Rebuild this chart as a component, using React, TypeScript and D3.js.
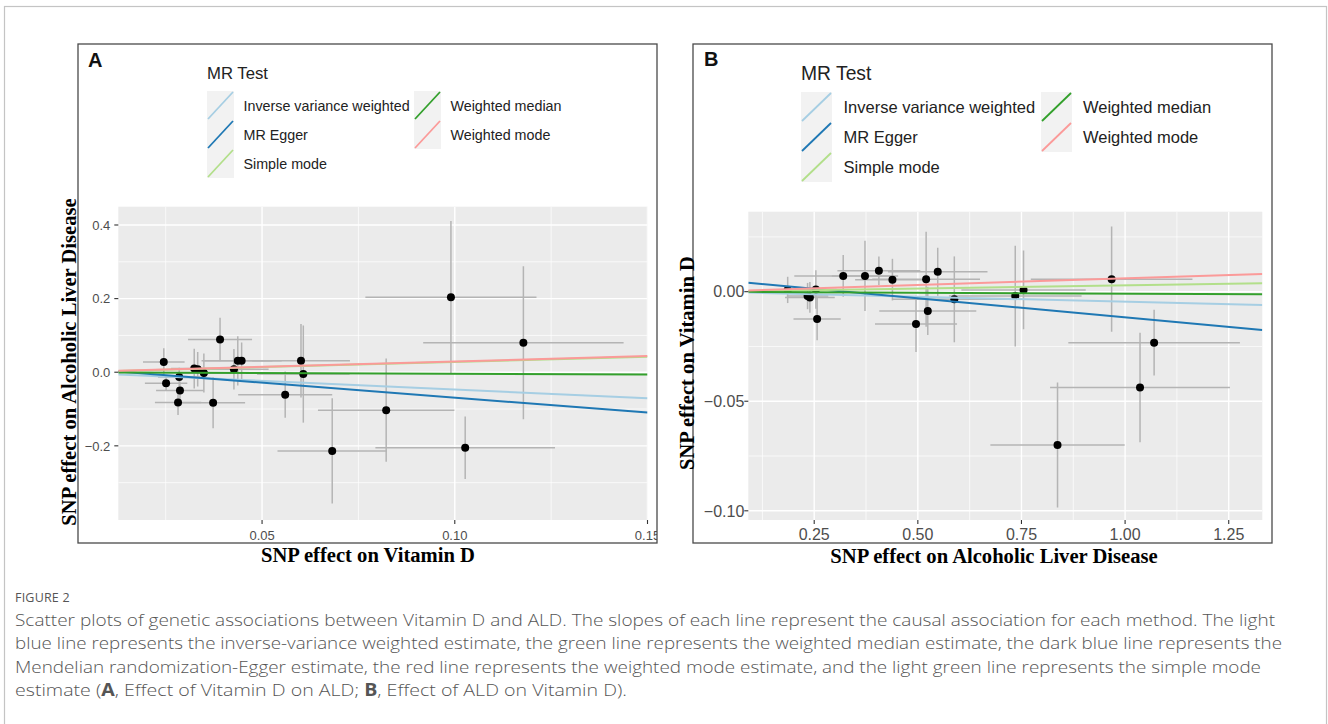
import * as d3 from 'd3';

const W = 1328;
const H = 724;

// MR methods, in ggplot factor order
const methods = ['Inverse variance weighted', 'MR Egger', 'Simple mode', 'Weighted median', 'Weighted mode'];
const methodColors = ['#a6cee3', '#1f78b4', '#b2df8a', '#33a02c', '#fb9a99'];

// Panel A: exposure Vitamin D, outcome ALD
const vitdA = [0.0245, 0.0251, 0.0285, 0.0287, 0.0282, 0.0324, 0.0333, 0.0349, 0.0391, 0.0373, 0.0427, 0.0437, 0.0447, 0.0601, 0.0607, 0.056, 0.0682, 0.0822, 0.099, 0.1178, 0.1027];
const aldA = [0.028, -0.03, -0.013, -0.05, -0.082, 0.01, 0.008, -0.002, 0.089, -0.083, 0.008, 0.031, 0.031, 0.031, -0.005, -0.061, -0.214, -0.103, 0.204, 0.08, -0.205];
const seVitdA = [0.0054, 0.0055, 0.0055, 0.0062, 0.006, 0.006, 0.006, 0.007, 0.0083, 0.0083, 0.009, 0.009, 0.0104, 0.0127, 0.012, 0.0122, 0.0142, 0.0177, 0.0222, 0.026, 0.0233];
const seAldA = [0.037, 0.02, 0.025, 0.025, 0.034, 0.054, 0.047, 0.053, 0.059, 0.069, 0.055, 0.067, 0.05, 0.1, 0.132, 0.063, 0.143, 0.14, 0.207, 0.208, 0.085];
const slopesA = [-0.47, -0.81, 0.28, -0.042, 0.293];
const interceptsA = [0, 0.012, 0, 0, 0];
const xTicksA = [0.05, 0.1, 0.15];
const xMinorA = [0.025, 0.075, 0.125];
const yTicksA = [-0.2, 0, 0.2, 0.4];
const yMinorA = [-0.3, -0.1, 0.1, 0.3];

// Panel B: exposure ALD, outcome Vitamin D
const aldB = [0.186, 0.234, 0.2396, 0.254, 0.257, 0.32, 0.3725, 0.406, 0.4387, 0.4956, 0.52, 0.524, 0.548, 0.588, 0.735, 0.755, 0.9675, 1.07, 1.036, 0.837];
const vitdB = [0.0008, -0.002, -0.0026, 0.001, -0.0125, 0.0072, 0.0072, 0.0095, 0.0055, -0.0147, 0.0057, -0.0088, 0.0091, -0.0035, -0.002, 0.0008, 0.0057, -0.0233, -0.0437, -0.07];
const seAldB = [0.04, 0.05, 0.06, 0.05, 0.057, 0.118, 0.08, 0.1, 0.09, 0.099, 0.13, 0.117, 0.12, 0.15, 0.16, 0.15, 0.195, 0.207, 0.217, 0.162];
const seVitdB = [0.006, 0.006, 0.007, 0.0088, 0.0097, 0.0095, 0.016, 0.0065, 0.0095, 0.0128, 0.0217, 0.011, 0.011, 0.0196, 0.023, 0.018, 0.024, 0.015, 0.025, 0.0285];
const slopesB = [-0.0046, -0.01742, 0.00288, -0.0009, 0.0061];
const interceptsB = [0, 0.00569, 0, 0, 0];
const xTicksB = [0.25, 0.5, 0.75, 1.0, 1.25];
const xMinorB = [0.125, 0.375, 0.625, 0.875, 1.125];
const yTicksB = [-0.1, -0.05, 0];
const yMinorB = [-0.075, -0.025, 0.025];

const captionLines = [
  'Scatter plots of genetic associations between Vitamin D and ALD. The slopes of each line represent the causal association for each method. The light',
  'blue line represents the inverse-variance weighted estimate, the green line represents the weighted median estimate, the dark blue line represents the',
  'Mendelian randomization-Egger estimate, the red line represents the weighted mode estimate, and the light green line represents the simple mode',
];
const captionEnds = [1275, 1282, 1261];

const SANS = 'Arial, "Liberation Sans", sans-serif';
const SERIF = '"Times New Roman", "Liberation Serif", serif';
const minus = (s: string) => s.replace('-', '\u2212');

function Panel(p: any) {
  const x = d3.scaleLinear().domain(p.xDomain).range([p.plot.l, p.plot.r]);
  const y = d3.scaleLinear().domain(p.yDomain).range([p.plot.b, p.plot.t]);
  const clipId = 'clip-' + p.id;
  const boxId = 'box-' + p.id;
  const lg = p.legend;
  return (
    <g>
      <defs>
        <clipPath id={clipId}>
          <rect x={p.plot.l} y={p.plot.t} width={p.plot.r - p.plot.l} height={p.plot.b - p.plot.t} />
        </clipPath>
        <clipPath id={boxId}>
          <rect x={p.box.x} y={p.box.y} width={p.box.w} height={p.box.h} />
        </clipPath>
      </defs>
      <rect x={p.box.x} y={p.box.y} width={p.box.w} height={p.box.h} fill="#fff" stroke="#4a4a4a" strokeWidth={1.3} />
      <text x={p.letter.x} y={p.letter.y} fontFamily={SANS} fontWeight="bold" fontSize={20} fill="#111">{p.id}</text>

      {/* legend */}
      <text x={lg.titleX} y={lg.titleY} fontFamily={SANS} fontSize={lg.titleSize} fill="#222">MR Test</text>
      {methods.map((m, i) => {
        const col = i < 3 ? 0 : 1;
        const row = i < 3 ? i : i - 3;
        const kx = col === 0 ? lg.keyX1 : lg.keyX2;
        const ky = lg.keyTop + row * lg.keyH;
        const tx = col === 0 ? lg.textX1 : lg.textX2;
        return (
          <g key={m}>
            <rect x={kx} y={ky} width={lg.keyW} height={lg.keyH} fill="#f2f2f2" />
            <line x1={kx + 1} y1={ky + lg.keyH - 1} x2={kx + lg.keyW - 1} y2={ky + 1} stroke={methodColors[i]} strokeWidth={1.8} />
            <text x={tx} y={ky + lg.keyH / 2} dy="0.36em" fontFamily={SANS} fontSize={lg.textSize} fill="#222">{m}</text>
          </g>
        );
      })}

      {/* plot panel */}
      <rect x={p.plot.l} y={p.plot.t} width={p.plot.r - p.plot.l} height={p.plot.b - p.plot.t} fill="#ebebeb" />
      <g clipPath={`url(#${clipId})`}>
        {p.xMinor.map((v: number) => <line key={'xm' + v} x1={x(v)} x2={x(v)} y1={p.plot.t} y2={p.plot.b} stroke="#fff" strokeWidth={0.7} />)}
        {p.yMinor.map((v: number) => <line key={'ym' + v} y1={y(v)} y2={y(v)} x1={p.plot.l} x2={p.plot.r} stroke="#fff" strokeWidth={0.7} />)}
        {p.xTicks.map((v: number) => <line key={'xM' + v} x1={x(v)} x2={x(v)} y1={p.plot.t} y2={p.plot.b} stroke="#fff" strokeWidth={1.4} />)}
        {p.yTicks.map((v: number) => <line key={'yM' + v} y1={y(v)} y2={y(v)} x1={p.plot.l} x2={p.plot.r} stroke="#fff" strokeWidth={1.4} />)}
        {p.xs.map((v: number, i: number) => (
          <g key={'e' + i} stroke="#b4b4b4" strokeWidth={1.5}>
            <line x1={x(v - p.sxs[i])} x2={x(v + p.sxs[i])} y1={y(p.ys[i])} y2={y(p.ys[i])} />
            <line x1={x(v)} x2={x(v)} y1={y(p.ys[i] - p.sys[i])} y2={y(p.ys[i] + p.sys[i])} />
          </g>
        ))}
        {p.xs.map((v: number, i: number) => (
          <circle key={'p' + i} cx={x(v)} cy={y(p.ys[i])} r={4} fill="#000" />
        ))}
        {methods.map((m, i) => {
          const [d0, d1] = p.xDomain;
          return (
            <line key={'l' + m} x1={x(d0)} x2={x(d1)}
              y1={y(p.intercepts[i] + p.slopes[i] * d0)} y2={y(p.intercepts[i] + p.slopes[i] * d1)}
              stroke={methodColors[i]} strokeWidth={2} />
          );
        })}
      </g>

      {/* axes */}
      <g clipPath={`url(#${boxId})`}>
        {p.xTicks.map((v: number) => (
          <g key={'xt' + v}>
            <line x1={x(v)} x2={x(v)} y1={p.plot.b} y2={p.plot.b + 4} stroke="#333" strokeWidth={1.1} />
            <text x={x(v)} y={540} textAnchor="middle" fontFamily={SANS} fontSize={p.tickSize} fill="#4d4d4d">{p.xFmt(v)}</text>
          </g>
        ))}
        {p.yTicks.map((v: number) => (
          <g key={'yt' + v}>
            <line x1={p.plot.l - 4} x2={p.plot.l} y1={y(v)} y2={y(v)} stroke="#333" strokeWidth={1.1} />
            <text x={p.plot.l - p.yLabelGap} y={y(v)} dy="0.36em" textAnchor="end" fontFamily={SANS} fontSize={p.tickSize} fill="#4d4d4d">{minus(p.yFmt(v))}</text>
          </g>
        ))}
      </g>
      <text x={p.xTitle.x} y={p.xTitle.y} textAnchor="middle" fontFamily={SERIF} fontWeight="bold" fontSize={20.6} fill="#000">{p.xTitle.text}</text>
      <text transform={`translate(${p.yTitle.x},${p.yTitle.y}) rotate(-90)`} textAnchor="middle" dy="0.35em" fontFamily={SERIF} fontWeight="bold" fontSize={20.6} fill="#000">{p.yTitle.text}</text>
    </g>
  );
}

export default function App() {
  const panelA = {
    id: 'A',
    box: { x: 78, y: 44, w: 579, h: 499 },
    plot: { l: 118.3, r: 647.5, t: 206.7, b: 520 },
    xDomain: [0.0127, 0.15],
    yDomain: [-0.4015, 0.4497],
    xTicks: xTicksA, xMinor: xMinorA, yTicks: yTicksA, yMinor: yMinorA,
    xFmt: d3.format('.2f'), yFmt: d3.format('.1f'),
    tickSize: 13, yLabelGap: 8,
    xs: vitdA, ys: aldA, sxs: seVitdA, sys: seAldA,
    slopes: slopesA, intercepts: interceptsA,
    xTitle: { text: 'SNP effect on Vitamin D', x: 368, y: 562 },
    yTitle: { text: 'SNP effect on Alcoholic Liver Disease', x: 69, y: 362 },
    letter: { x: 88, y: 67 },
    legend: { titleX: 207, titleY: 79, titleSize: 16.7, keyX1: 207, keyX2: 414, keyW: 27, keyH: 29, keyTop: 91, textX1: 243.5, textX2: 450.5, textSize: 14.3 },
  };
  const panelB = {
    id: 'B',
    box: { x: 693, y: 44, w: 579, h: 499 },
    plot: { l: 748.3, r: 1262.3, t: 211.7, b: 520 },
    xDomain: [0.091, 1.331],
    yDomain: [-0.1042, 0.0365],
    xTicks: xTicksB, xMinor: xMinorB, yTicks: yTicksB, yMinor: yMinorB,
    xFmt: d3.format('.2f'), yFmt: d3.format('.2f'),
    tickSize: 16, yLabelGap: 4,
    xs: aldB, ys: vitdB, sxs: seAldB, sys: seVitdB,
    slopes: slopesB, intercepts: interceptsB,
    xTitle: { text: 'SNP effect on Alcoholic Liver Disease', x: 994, y: 563 },
    yTitle: { text: 'SNP effect on Vitamin D', x: 687, y: 363 },
    letter: { x: 704, y: 66 },
    legend: { titleX: 801, titleY: 80, titleSize: 19.3, keyX1: 801, keyX2: 1041, keyW: 31, keyH: 30, keyTop: 92, textX1: 843.5, textX2: 1083, textSize: 16.5 },
  };
  const capFont = '"Open Sans", Lato, sans-serif';
  const capSize = 17;
  const capGap = 23.3;
  return (
    <svg width={W} height={H} viewBox={`0 0 ${W} ${H}`} style={{ position: 'absolute', left: 0, top: 0, background: '#fff' }}>
      <rect x={4.5} y={6.5} width={1322} height={H + 20} fill="none" stroke="#c4c4c4" strokeWidth={1.2} />
      <Panel {...panelA} />
      <Panel {...panelB} />
      <text x={15} y={602} fontFamily={capFont} fontSize={12.5} fill="#555" letterSpacing={0.2}>FIGURE 2</text>
      {captionLines.map((t, i) => (
        <text key={i} x={15} y={626 + i * capGap} fontFamily={capFont} fontWeight={300} fontSize={capSize} fill="#555"
          textLength={captionEnds[i] - 15} lengthAdjust="spacingAndGlyphs">{t}</text>
      ))}
      <text x={15} y={626 + 3 * capGap} fontFamily={capFont} fontWeight={300} fontSize={capSize} fill="#555"
        textLength={612} lengthAdjust="spacingAndGlyphs">
        estimate (<tspan fontWeight={700}>A</tspan>, Effect of Vitamin D on ALD; <tspan fontWeight={700}>B</tspan>, Effect of ALD on Vitamin D).
      </text>
    </svg>
  );
}
